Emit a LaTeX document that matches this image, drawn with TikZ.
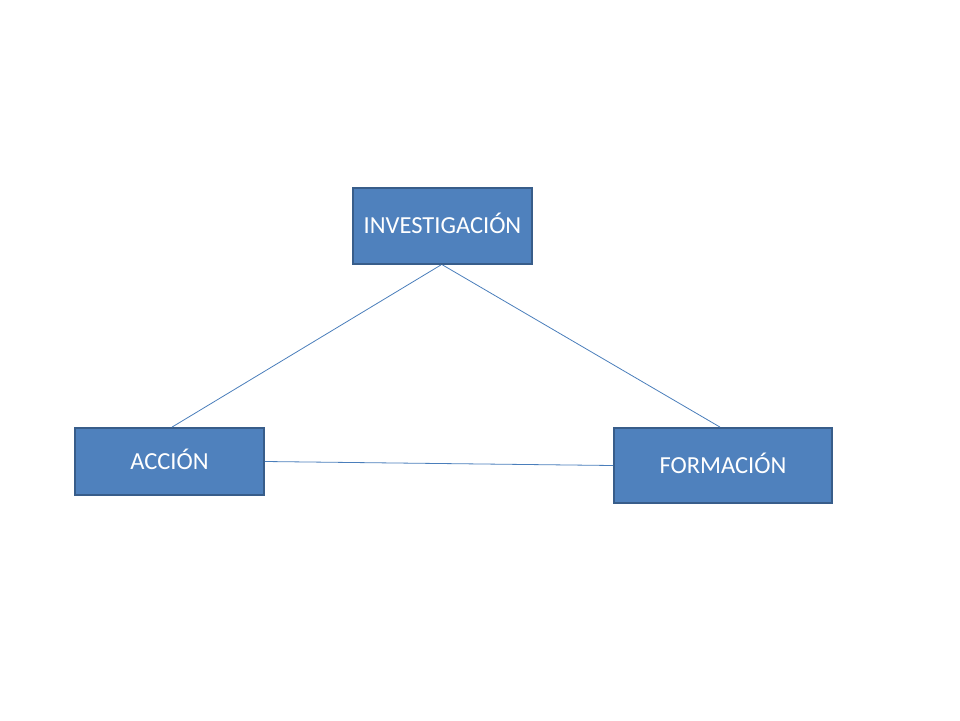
\documentclass[tikz,border=0pt]{standalone}
\usepackage{fontspec}
\setmainfont{Carlito}
\definecolor{boxfill}{HTML}{4F81BD}
\definecolor{boxline}{HTML}{385D8A}
\definecolor{conn}{HTML}{4A7EBB}
\begin{document}
\begin{tikzpicture}[x=1pt,y=-1pt,
  box/.style={draw=boxline,line width=1.8pt,fill=boxfill,text=white,font=\fontsize{24.5}{28}\selectfont,inner sep=0pt,text height=15.8pt,text depth=0pt,anchor=center},
  conn/.style={draw=conn,line width=0.8pt}]
\useasboundingbox (0,0) rectangle (960,720);
\node[box,minimum width=179pt,minimum height=76pt] (inv) at (442.5,226) {INVESTIGACIÓN};
\node[box,minimum width=189pt,minimum height=67pt] (acc) at (169.5,461.5) {ACCIÓN};
\node[box,minimum width=218pt,minimum height=75pt] (form) at (723,465.5) {FORMACIÓN};
\draw[conn] ([xshift=-1.5pt]inv.south) -- ([xshift=2.5pt]acc.north);
\draw[conn] (inv.south) -- ([xshift=-3pt]form.north);
\draw[conn] (acc.east) -- (form.west);
\end{tikzpicture}
\end{document}
